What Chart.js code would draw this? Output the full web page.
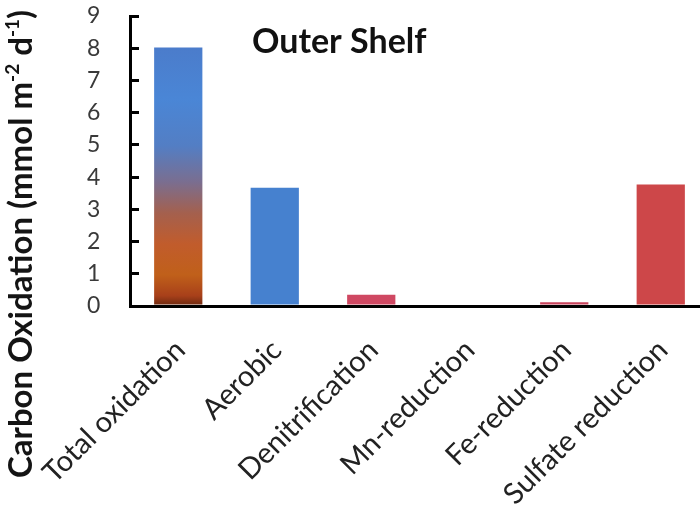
<!DOCTYPE html>
<html>
<head>
<meta charset="utf-8">
<script src="https://cdn.jsdelivr.net/npm/chart.js@4.4.1/dist/chart.umd.min.js"></script>
<style>
  html, body { margin: 0; padding: 0; overflow: hidden; background: #fff; width: 700px; height: 505px; }
  #wrap { position: relative; width: 709px; height: 505px; }
</style>
</head>
<body>
<div id="wrap"><canvas id="c" width="709" height="505"></canvas></div>
<script>
const categories = ["Total oxidation", "Aerobic", "Denitrification", "Mn-reduction", "Fe-reduction", "Sulfate reduction"];
const oxidationValues = [8.02, 3.67, 0.35, 0.0, 0.12, 3.77];
const yTicks = [0, 1, 2, 3, 4, 5, 6, 7, 8, 9];
const chartTitle = "Outer Shelf";
const yTitleParts = [["Carbon Oxidation (mmol m", false], ["-2", true], [" d", false], ["-1", true], [")", false]];

const barColors = ["#4a7fcc", "#4681cf", "#cf4862", "#c8455e", "#c8435c", "#cd4749"];

function totalGradient(chart) {
  const y = chart.scales.y;
  const g = chart.ctx.createLinearGradient(0, y.getPixelForValue(oxidationValues[0]), 0, y.getPixelForValue(0));
  g.addColorStop(0.00, "#4b7ccb");
  g.addColorStop(0.20, "#4a86d6");
  g.addColorStop(0.38, "#537ec4");
  g.addColorStop(0.52, "#7a6e90");
  g.addColorStop(0.64, "#a4604e");
  g.addColorStop(0.76, "#c15c2c");
  g.addColorStop(0.88, "#c0601a");
  g.addColorStop(0.96, "#a8401a");
  g.addColorStop(1.00, "#6a2810");
  return g;
}

const titlesPlugin = {
  id: "titles",
  afterDraw(chart) {
    const ctx = chart.ctx;
    ctx.save();
    ctx.fillStyle = "#111";
    ctx.textBaseline = "alphabetic";
    ctx.textAlign = "left";
    ctx.font = "bold 34px Lato";
    ctx.fillText(chartTitle, 252, 53);
    // y-axis title, rotated
    ctx.fillStyle = "#141414";
    ctx.translate(32, 478);
    ctx.rotate(-Math.PI / 2);
    let x = 0;
    for (const [txt, sup] of yTitleParts) {
      ctx.font = sup ? "bold 19px Lato" : "bold 33px Lato";
      ctx.fillText(txt, x, sup ? -13 : 0);
      x += ctx.measureText(txt).width;
    }
    ctx.restore();
  }
};

new Chart(document.getElementById("c"), {
  type: "bar",
  data: {
    labels: categories,
    datasets: [{
      data: oxidationValues,
      backgroundColor: (c) => (c.dataIndex === 0 && c.chart.chartArea) ? totalGradient(c.chart) : barColors[c.dataIndex],
      borderWidth: 0,
      barPercentage: 0.5,
      categoryPercentage: 1.0
    }]
  },
  options: {
    responsive: false,
    devicePixelRatio: 1,
    animation: false,
    layout: { padding: { top: 16, left: 87, right: 0, bottom: 0 } },
    plugins: { legend: { display: false }, tooltip: { enabled: false }, title: { display: false } },
    scales: {
      x: {
        grid: { display: false, drawTicks: true, tickLength: 27 },
        border: { display: true, color: "#000", width: 3 },
        ticks: {
          color: "#222",
          font: { family: "Lato", size: 29 },
          minRotation: 45, maxRotation: 45,
          padding: 0,
          labelOffset: 2,
          autoSkip: false
        },
        afterFit(s) { s.height = 199; }
      },
      y: {
        min: 0, max: 9,
        afterBuildTicks(s) { s.ticks = yTicks.map(v => ({ value: v })); },
        grid: { display: true, drawOnChartArea: false, drawTicks: true, tickLength: -9, lineWidth: 3, color: "#000" },
        border: { display: true, color: "#000", width: 3 },
        ticks: {
          color: "#3a3a3a",
          font: { family: "Lato", size: 23 },
          padding: 0,
          crossAlign: "far",
          autoSkip: false
        },
        afterFit(s) { s.width = 43; }
      }
    }
  },
  plugins: [titlesPlugin]
});
</script>
</body>
</html>
